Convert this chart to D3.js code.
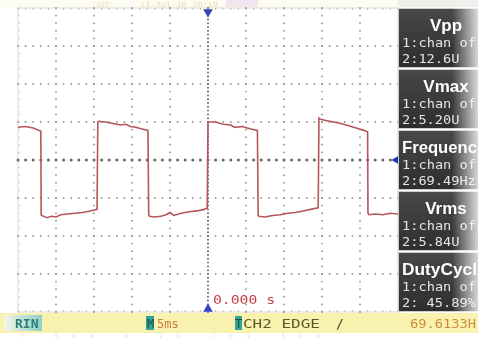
<!DOCTYPE html>
<html><head><meta charset="utf-8">
<script src="https://cdn.jsdelivr.net/npm/d3@7"></script>
<style>body{margin:0;background:#fff}svg{display:block}</style>
</head><body>
<script>
// time (ms) and voltage (V) of the CH2 trace, 5 ms/div, 5 V/div
const traceTime = [-25,-24,-23,-22.3,-22.0,-21.95,-21.9,-21.2,-20.6,-20.0,-19.4,-18.5,-17.5,-16.5,-15.5,-14.6,-14.5,-14.4,-13.5,-12.5,-11.5,-10.8,-10.2,-9.5,-8.8,-7.9,-7.8,-7.7,-7.0,-6.2,-5.5,-5.0,-4.5,-3.5,-2.5,-1.5,-0.5,-0.1,0,0.1,1,2,3,3.5,4.5,5.5,6.5,6.6,6.7,7.5,8.5,9.5,10.5,11.5,12.5,13.5,14.5,14.6,14.7,15.5,16.5,17.5,18.5,19.5,20.5,21.0,21.05,21.2,22,23,24,25];
const traceVolt = [4.3,4.4,4.2,3.9,3.8,-7.2,-7.3,-7.6,-7.4,-7.5,-7.2,-7.1,-7.0,-6.9,-6.7,-6.5,5.0,5.1,5.0,4.8,4.6,4.7,4.4,4.3,4.1,3.9,-7.2,-7.4,-7.5,-7.4,-7.2,-6.9,-7.3,-7.0,-6.8,-6.7,-6.5,-6.3,5.0,5.0,5.0,4.7,4.6,4.3,4.4,4.1,3.9,-7.3,-7.4,-7.5,-7.3,-7.2,-7.0,-6.9,-6.7,-6.5,-6.3,5.5,5.4,5.2,5.0,4.8,4.5,4.2,3.9,3.7,-7.0,-7.2,-7.1,-7.2,-7.0,-7.1];
const measureTitles = ["Vpp","Vmax","Frequenc","Vrms","DutyCycl"];
const measureValues = ["2:12.6U","2:5.20U","2:69.49Hz","2:5.84U","2: 45.89%"];
const xDivs = [-25,-20,-15,-10,-5,0,5,10,15,20,25];
const yDivs = [-20,-15,-10,-5,0,5,10,15,20];

const W=478,H=338;
const svg=d3.select("body").append("svg").attr("width",W).attr("height",H);
const defs=svg.append("defs");
defs.append("filter").attr("id","blur").append("feGaussianBlur").attr("stdDeviation",0.45);
const fade=defs.append("linearGradient").attr("id","fade").attr("x1",0).attr("x2",1);
fade.append("stop").attr("offset",0).attr("stop-color","#fff").attr("stop-opacity",0);
fade.append("stop").attr("offset",1).attr("stop-color","#fff").attr("stop-opacity",0.8);
const boxg=defs.append("linearGradient").attr("id","boxg").attr("x1",0).attr("x2",0).attr("y1",0).attr("y2",1);
boxg.append("stop").attr("offset",0).attr("stop-color","#484848");
boxg.append("stop").attr("offset",1).attr("stop-color","#2e2e2e");
const ting=defs.append("linearGradient").attr("id","ting").attr("x1",0).attr("x2",1);
ting.append("stop").attr("offset",0).attr("stop-color","#f4f6e8");
ting.append("stop").attr("offset",1).attr("stop-color","#8fd0c4");

const g=svg.append("g").attr("filter","url(#blur)");
const x=d3.scaleLinear().domain([-25,25]).range([18,398]);
const y=d3.scaleLinear().domain([-20,20]).range([312,8]);
const mono="DejaVu Sans Mono";

// top strip
g.append("rect").attr("x",0).attr("y",0).attr("width",W).attr("height",8).attr("fill","#fdfcf2");
g.append("text").attr("x",92).attr("y",7).attr("font-family",mono).attr("font-size",7).attr("fill","#e4dcae").text("'SUI'");
g.append("text").attr("x",140).attr("y",7).attr("font-family",mono).attr("font-size",7).attr("fill","#e4dcae").attr("textLength",78).attr("lengthAdjust","spacingAndGlyphs").text("11-Jul-10 20:19");
g.append("rect").attr("x",226).attr("y",0).attr("width",32).attr("height",7).attr("fill","#f4e4f0");

// plot frame
g.append("rect").attr("x",x(-25)).attr("y",y(20)).attr("width",x(25)-x(-25)).attr("height",y(-20)-y(20))
 .attr("fill","#fff").attr("stroke","#ddd8c8").attr("stroke-width",1);

const minorT=d3.range(-25,25.01,1), minorV=d3.range(-20,20.01,1);
g.selectAll(".tt").data(minorT).join("line").attr("x1",d=>x(d)).attr("x2",d=>x(d)).attr("y1",y(20)).attr("y2",y(20)+2).attr("stroke","#bbb");
g.selectAll(".tb").data(minorT).join("line").attr("x1",d=>x(d)).attr("x2",d=>x(d)).attr("y1",y(-20)).attr("y2",y(-20)-2).attr("stroke","#bbb");
g.selectAll(".tl").data(minorV).join("line").attr("x1",x(-25)).attr("x2",x(-25)+2).attr("y1",d=>y(d)).attr("y2",d=>y(d)).attr("stroke","#ccc");

// grid dots
const dots=[];
xDivs.filter(t=>t!==-25&&t!==25&&t!==0).forEach(t=>minorV.forEach(v=>dots.push([t,v,0.95,"#999"])));
yDivs.filter(v=>v!==-20&&v!==20&&v!==0).forEach(v=>minorT.forEach(t=>dots.push([t,v,0.95,"#999"])));
d3.range(-20,20.01,0.5).forEach(v=>dots.push([0,v,1.0,"#6a6a6a"]));
minorT.forEach(t=>dots.push([t,0,1.5,"#666"]));
g.selectAll(".dot").data(dots).join("circle").attr("cx",d=>x(d[0])).attr("cy",d=>y(d[1])).attr("r",d=>d[2]).attr("fill",d=>d[3]);

// trace
const pts=traceTime.map((t,i)=>[t,traceVolt[i]]);
g.append("path").datum(pts).attr("fill","none").attr("stroke","#b4565a").attr("stroke-width",1.6)
 .attr("d",d3.line().x(d=>x(d[0])).y(d=>y(d[1])));

// markers
const tri=d3.symbol().type(d3.symbolTriangle).size(40);
g.append("path").attr("d",tri).attr("fill","#3344bb").attr("transform",`translate(${x(0)},${y(20)+4}) rotate(180)`);
g.append("path").attr("d",tri).attr("fill","#3344bb").attr("transform",`translate(${x(0)},${y(-20)-3})`);
g.append("path").attr("d",tri).attr("fill","#2233bb").attr("transform",`translate(${x(25)-1},${y(0)}) rotate(-90)`);
g.append("text").attr("x",x(0)+5).attr("y",304).attr("font-family",mono).attr("font-size",12)
 .attr("fill","#c8424a").attr("textLength",62).attr("lengthAdjust","spacingAndGlyphs").text("0.000 s");

// measurement panel
measureTitles.forEach((tt,i)=>{
  const top=8+i*61;
  const b=g.append("g");
  b.append("rect").attr("x",398).attr("y",top).attr("width",80).attr("height",60).attr("fill","#ccc");
  b.append("rect").attr("x",399).attr("y",top+1).attr("width",79).attr("height",58).attr("fill","url(#boxg)");
  const long=tt.length>5;
  const t=b.append("text").attr("x",long?402:446).attr("y",top+23).attr("text-anchor",long?"start":"middle")
   .attr("font-family","Liberation Sans, Arial").attr("font-weight","bold").attr("font-size",17).attr("fill","#fff").text(tt);
  if(long) t.attr("textLength",75).attr("lengthAdjust","spacingAndGlyphs");
  b.append("text").attr("x",402).attr("y",top+39).attr("font-family",mono).attr("font-size",13).attr("fill","#e4e4e4")
   .attr("textLength",74).attr("lengthAdjust","spacingAndGlyphs").text("1:chan of");
  b.append("text").attr("x",402).attr("y",top+55).attr("font-family",mono).attr("font-size",13).attr("fill","#e4e4e4")
   .attr("textLength",measureValues[i].length*8.2).attr("lengthAdjust","spacingAndGlyphs").text(measureValues[i]);
});
g.append("rect").attr("x",452).attr("y",0).attr("width",26).attr("height",338).attr("fill","url(#fade)");
g.append("rect").attr("x",398).attr("y",0).attr("width",80).attr("height",7).attr("fill","#eef0ee");

// bottom bar
g.append("rect").attr("x",0).attr("y",313).attr("width",W).attr("height",20).attr("fill","#f8f2ae");
g.append("rect").attr("x",4).attr("y",315).attr("width",38).attr("height",16).attr("fill","url(#ting)");
g.append("text").attr("x",15).attr("y",328).attr("font-family",mono).attr("font-weight","bold").attr("font-size",13).attr("fill","#2a7d78").text("RIN");
g.append("rect").attr("x",146).attr("y",316).attr("width",8).attr("height",14).attr("fill","#36a59b");
g.append("text").attr("x",147).attr("y",328).attr("font-family",mono).attr("font-size",12).attr("fill","#124d48").text("M");
g.append("text").attr("x",157).attr("y",328).attr("font-family",mono).attr("font-size",12).attr("fill","#c87a4a").text("5ms");
g.append("rect").attr("x",235).attr("y",316).attr("width",7).attr("height",14).attr("fill","#36a59b");
g.append("text").attr("x",235).attr("y",328).attr("font-family",mono).attr("font-size",12).attr("fill","#124d48").text("T");
g.append("text").attr("x",243).attr("y",328).attr("font-family",mono).attr("font-size",13).attr("fill","#5c5a2a").attr("textLength",77).attr("lengthAdjust","spacingAndGlyphs").text("CH2 EDGE");
g.append("text").attr("x",336).attr("y",328).attr("font-family",mono).attr("font-size",13).attr("fill","#3c3a20").text("/");
g.append("text").attr("x",410).attr("y",328).attr("font-family",mono).attr("font-size",13).attr("fill","#d08a3c").attr("textLength",66).attr("lengthAdjust","spacingAndGlyphs").text("69.6133H");
g.append("text").attr("x",20).attr("y",338).attr("font-family",mono).attr("font-size",6).attr("fill","#e0e0e0").attr("textLength",300).attr("lengthAdjust","spacing").text("Y  500  U  2U  Ch2  500");
</script>
</body></html>
